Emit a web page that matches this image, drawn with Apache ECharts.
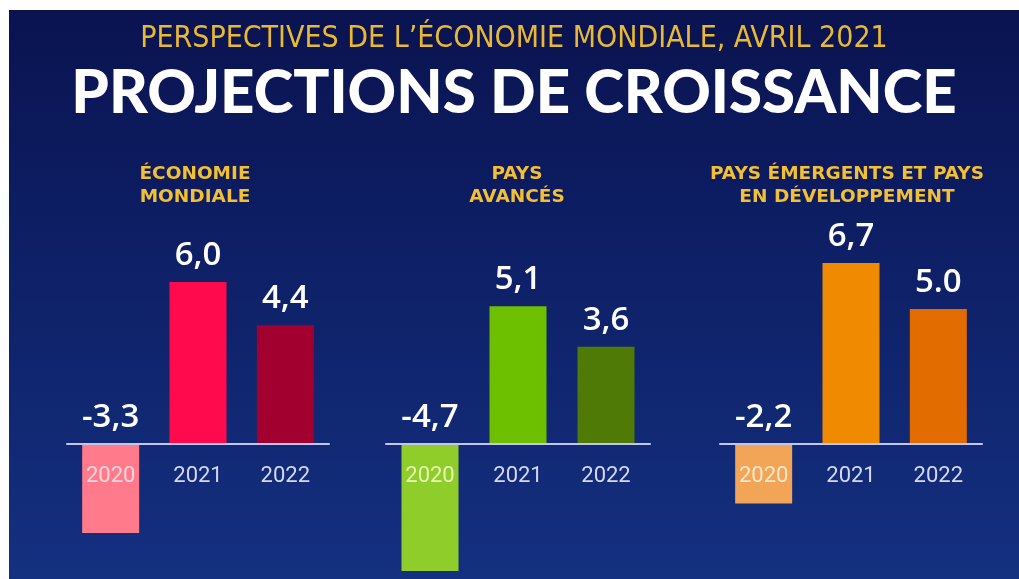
<!DOCTYPE html>
<html>
<head>
<meta charset="utf-8">
<script src="https://cdn.jsdelivr.net/npm/echarts@6/dist/echarts.min.js"></script>
<style>
html,body{margin:0;padding:0;background:#ffffff;width:1019px;height:579px;overflow:hidden;}
#main{position:absolute;left:9px;top:10px;width:1010px;height:569px;}
</style>
</head>
<body>
<div id="main"></div>
<script>
// ---- data ----
const supTitle = "PERSPECTIVES DE L\u2019ÉCONOMIE MONDIALE, AVRIL 2021";
const mainTitle = "PROJECTIONS DE CROISSANCE";
const years = ["2020", "2021", "2022"];
const panelTitles = ["ÉCONOMIE\nMONDIALE", "PAYS\nAVANCÉS", "PAYS ÉMERGENTS ET PAYS\nEN DÉVELOPPEMENT"];
const mondiale = [-3.3, 6.0, 4.4];
const avances = [-4.7, 5.1, 3.6];
const emergents = [-2.2, 6.7, 5.0];
const valueLabels1 = ["-3,3", "6,0", "4,4"];
const valueLabels2 = ["-4,7", "5,1", "3,6"];
const valueLabels3 = ["-2,2", "6,7", "5.0"];
const colors1 = ["#ff7b8b", "#ff0a4c", "#a2002f"];
const colors2 = ["#8fcd2b", "#6cc000", "#4e7a05"];
const colors3 = ["#f2a457", "#f08a00", "#e36c00"];
const yearLabelColors1 = ["#ffd6dc", "#d6d8f2", "#d6d8f2"];
const yearLabelColors2 = ["#e6f7b0", "#d6d8f2", "#d6d8f2"];
const yearLabelColors3 = ["#ffe8c8", "#d6d8f2", "#d6d8f2"];
const yMin = -5, yMax = 7;

const gridTop = 245, gridHeight = 324;
const panels = [
  {left: 58, width: 262, values: mondiale, labels: valueLabels1, colors: colors1, yc: yearLabelColors1, titleX: 181},
  {left: 377, width: 264, values: avances, labels: valueLabels2, colors: colors2, yc: yearLabelColors2, titleX: 503},
  {left: 711, width: 262, values: emergents, labels: valueLabels3, colors: colors3, yc: yearLabelColors3, titleX: 833}
];

const chart = echarts.init(document.getElementById('main'), null, {renderer: 'canvas'});
// place the category axis on the zero line (offset measured from grid bottom)
const zeroOffset = -((0 - yMin) / (yMax - yMin)) * gridHeight;

const grids = [], xAxes = [], yAxes = [], series = [], titles = [];
titles.push({
  text: supTitle, left: 'center', top: 9,
  textStyle: {color: '#e9b834', fontSize: 30, fontWeight: 'normal', fontFamily: '"Liberation Sans Narrow", "DejaVu Sans Condensed", "Roboto Condensed", sans-serif'}
});
titles.push({
  text: mainTitle, left: 'center', top: 49,
  textStyle: {color: '#ffffff', fontSize: 60, fontWeight: 900, fontFamily: 'Lato, "Open Sans", sans-serif'}
});
panels.forEach((p, i) => {
  grids.push({left: p.left, width: p.width, top: gridTop, height: gridHeight, containLabel: false, outerBoundsMode: 'none'});
  xAxes.push({
    type: 'category', gridIndex: i, data: years, position: 'bottom', z: 10,
    offset: zeroOffset,
    axisLine: {show: true, onZero: false, lineStyle: {color: '#c3c6ea', width: 2}},
    axisTick: {show: false},
    axisLabel: {
      margin: 21, fontSize: 22, fontFamily: 'Roboto, "Open Sans", sans-serif',
      color: (v, idx) => p.yc[idx]
    }
  });
  yAxes.push({
    type: 'value', gridIndex: i, min: yMin, max: yMax, show: false,
    splitLine: {show: false}
  });
  series.push({
    type: 'bar', xAxisIndex: i, yAxisIndex: i, barWidth: 57,
    data: p.values.map((v, k) => ({value: v, itemStyle: {color: p.colors[k]}})),
    label: {
      show: true, position: 'top', distance: 10,
      formatter: (prm) => p.labels[prm.dataIndex],
      color: '#ffffff', fontSize: 33, fontWeight: 600,
      fontFamily: '"Open Sans", Lato, sans-serif'
    }
  });
  titles.push({
    text: panelTitles[i], left: p.titleX, top: 148, textAlign: 'center',
    textStyle: {color: '#f2bf35', fontSize: 18.5, fontWeight: 'bold', lineHeight: 23,
      fontFamily: '"DejaVu Sans", "Open Sans", sans-serif', align: 'center'}
  });
});

chart.setOption({
  backgroundColor: {
    type: 'linear', x: 0, y: 0, x2: 0, y2: 1,
    colorStops: [
      {offset: 0, color: '#0a1350'},
      {offset: 0.35, color: '#0d1d62'},
      {offset: 1, color: '#143080'}
    ]
  },
  animation: false,
  title: titles,
  grid: grids,
  xAxis: xAxes,
  yAxis: yAxes,
  series: series
});
</script>
</body>
</html>
